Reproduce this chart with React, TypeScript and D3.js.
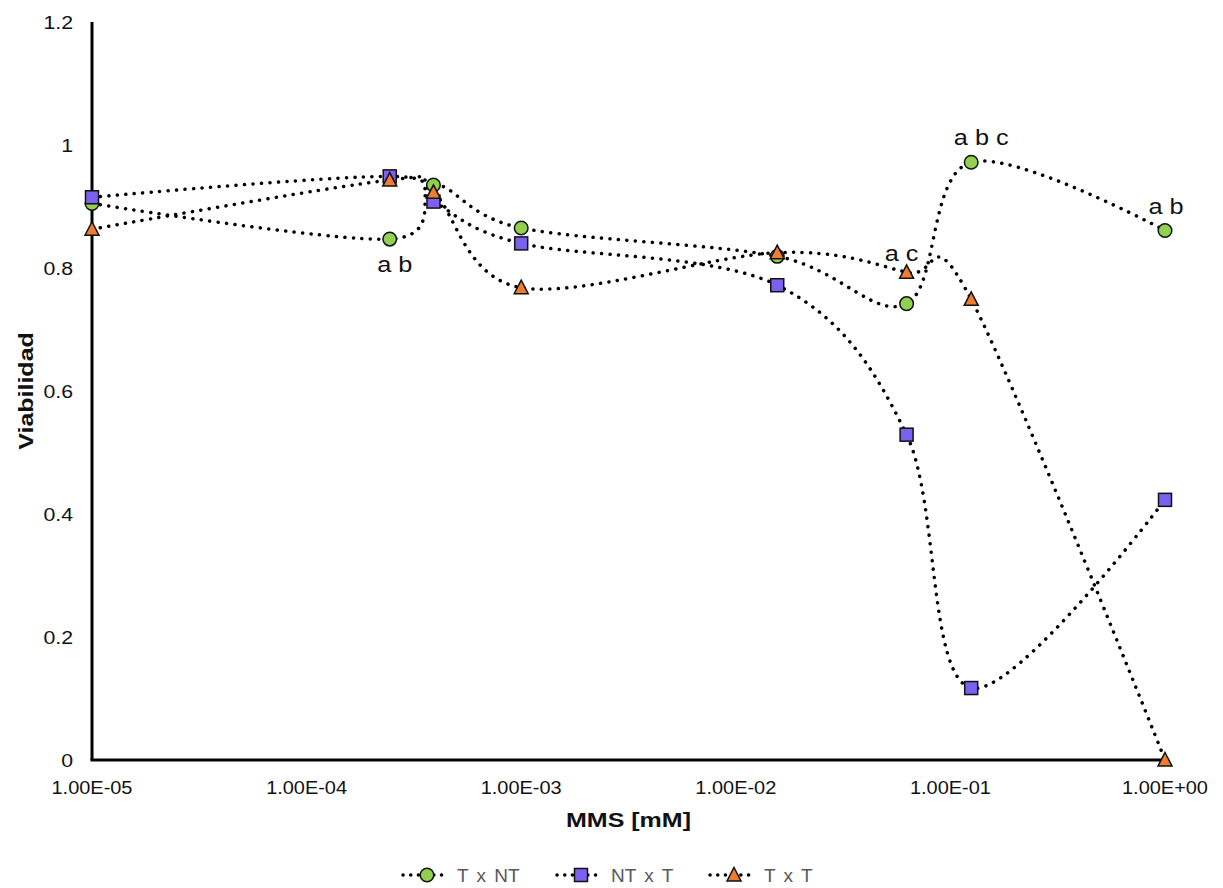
import React, { useEffect, useRef } from 'react';
import * as d3 from 'd3';

// MMS concentration (mM)
const concentrations = [0.00001, 0.000244, 0.00039, 0.001, 0.0156, 0.0625, 0.125, 1];

const seriesNames = ['T x NT', 'NT x T', 'T x T'];
const tNT = [0.905, 0.847, 0.935, 0.865, 0.819, 0.742, 0.972, 0.861];
const ntT = [0.915, 0.949, 0.908, 0.840, 0.772, 0.529, 0.117, 0.423];
const tT = [0.863, 0.943, 0.923, 0.768, 0.825, 0.793, 0.749, 0.0];

const yTicks = [0, 0.2, 0.4, 0.6, 0.8, 1, 1.2];
const xTicks = [0.00001, 0.0001, 0.001, 0.01, 0.1, 1];
const xTickLabels = ['1.00E-05', '1.00E-04', '1.00E-03', '1.00E-02', '1.00E-01', '1.00E+00'];

// significance letters (series index, point index, text, offsets)
const letters = [
  { s: 0, i: 1, text: 'a b', dx: 5, dy: 33 },
  { s: 0, i: 6, text: 'a b c', dx: 10, dy: -17 },
  { s: 0, i: 7, text: 'a b', dx: 1, dy: -16 },
  { s: 2, i: 5, text: 'a c', dx: -5, dy: -11 },
];

const App = () => {
  const svgRef = useRef<SVGSVGElement>(null);

  useEffect(() => {
    const width = 1223;
    const height = 888;
    const margin = { top: 22, right: 58, bottom: 128, left: 92 };
    const font = "'Liberation Sans', Arial, sans-serif";
    const sx = 1.2; // text in the original is a bit wider than Arial

    const svg = d3.select(svgRef.current);
    svg.selectAll('*').remove();
    svg.attr('width', width).attr('height', height);

    const x = d3.scaleLog()
      .domain([1e-5, 1])
      .range([margin.left, width - margin.right]);

    const y = d3.scaleLinear()
      .domain([0, 1.2])
      .range([height - margin.bottom, margin.top]);

    const colors = ['#92d050', '#7b61ee', '#ed7d31'];
    const data = [tNT, ntT, tT];

    const line = d3.line<number>()
      .x((_, i) => x(concentrations[i]))
      .y(d => y(d))
      .curve(d3.curveCatmullRom.alpha(0));

    const addText = (tx: number, ty: number, txt: string, size: number, anchor: string,
      opts: { bold?: boolean; fill?: string; rotate?: number; stretch?: number } = {}) => {
      svg.append('text')
        .attr('transform', `translate(${tx},${ty})${opts.rotate ? ` rotate(${opts.rotate})` : ''} scale(${opts.stretch ?? sx},1)`)
        .attr('text-anchor', anchor)
        .style('font-family', font)
        .style('font-size', `${size}px`)
        .style('font-weight', opts.bold ? 'bold' : 'normal')
        .attr('fill', opts.fill ?? '#111')
        .text(txt);
    };

    // axes
    svg.append('line')
      .attr('x1', x(1e-5)).attr('x2', x(1e-5))
      .attr('y1', y(1.2)).attr('y2', y(0))
      .attr('stroke', '#000').attr('stroke-width', 3);
    svg.append('line')
      .attr('x1', x(1e-5) - 1.5).attr('x2', x(1))
      .attr('y1', y(0)).attr('y2', y(0))
      .attr('stroke', '#000').attr('stroke-width', 3);

    // tick labels
    yTicks.forEach(t => addText(73, y(t) + 7, String(t), 19, 'end', { stretch: 1.12 }));
    xTicks.forEach((t, i) => addText(x(t), 794, xTickLabels[i], 19, 'middle', { stretch: 1.05 }));

    // axis titles
    addText((x(1e-5) + x(1)) / 2, 827, 'MMS [mM]', 20, 'middle', { bold: true, stretch: 1.25 });
    addText(33, (y(0) + y(1.2)) / 2, 'Viabilidad', 20, 'middle', { bold: true, rotate: -90, stretch: 1.25 });

    // lines
    data.forEach(values => {
      svg.append('path')
        .attr('d', line(values))
        .attr('fill', 'none')
        .attr('stroke', '#000')
        .attr('stroke-width', 3.5)
        .attr('stroke-linecap', 'round')
        .attr('stroke-dasharray', '0.1 8.4');
    });

    const drawMarker = (k: number, cx: number, cy: number) => {
      if (k === 0) {
        svg.append('circle')
          .attr('cx', cx).attr('cy', cy).attr('r', 6.8)
          .attr('fill', colors[0]).attr('stroke', '#111').attr('stroke-width', 1.5);
      } else if (k === 1) {
        svg.append('rect')
          .attr('x', cx - 6.5).attr('y', cy - 6.5).attr('width', 13).attr('height', 13)
          .attr('fill', colors[1]).attr('stroke', '#111').attr('stroke-width', 1.5);
      } else {
        svg.append('path')
          .attr('d', `M${cx},${cy - 7.5}L${cx + 7},${cy + 6}L${cx - 7},${cy + 6}Z`)
          .attr('fill', colors[2]).attr('stroke', '#111').attr('stroke-width', 1.5);
      }
    };

    // markers
    data.forEach((values, k) => {
      values.forEach((v, i) => drawMarker(k, x(concentrations[i]), y(v)));
    });

    // letters
    letters.forEach(l => {
      const v = data[l.s][l.i];
      addText(x(concentrations[l.i]) + l.dx, y(v) + l.dy, l.text, 22, 'middle', { stretch: 1.15 });
    });

    // legend
    const legendX = [403, 557, 710];
    const ly = 875;
    seriesNames.forEach((name, k) => {
      const lx = legendX[k];
      svg.append('line')
        .attr('x1', lx).attr('x2', lx + 46)
        .attr('y1', ly).attr('y2', ly)
        .attr('stroke', '#000').attr('stroke-width', 3.5)
        .attr('stroke-linecap', 'round')
        .attr('stroke-dasharray', '0.1 7.6');
      drawMarker(k, lx + 24, ly);
      svg.append('text')
        .attr('x', lx + 54)
        .attr('y', ly + 7)
        .style('font-family', font)
        .style('font-size', '19px')
        .style('word-spacing', '3px')
        .attr('fill', '#595959')
        .text(name);
    });
  }, []);

  return (
    <svg ref={svgRef} style={{ position: 'absolute', left: 0, top: 0, background: '#fff' }}></svg>
  );
};

export default App;
